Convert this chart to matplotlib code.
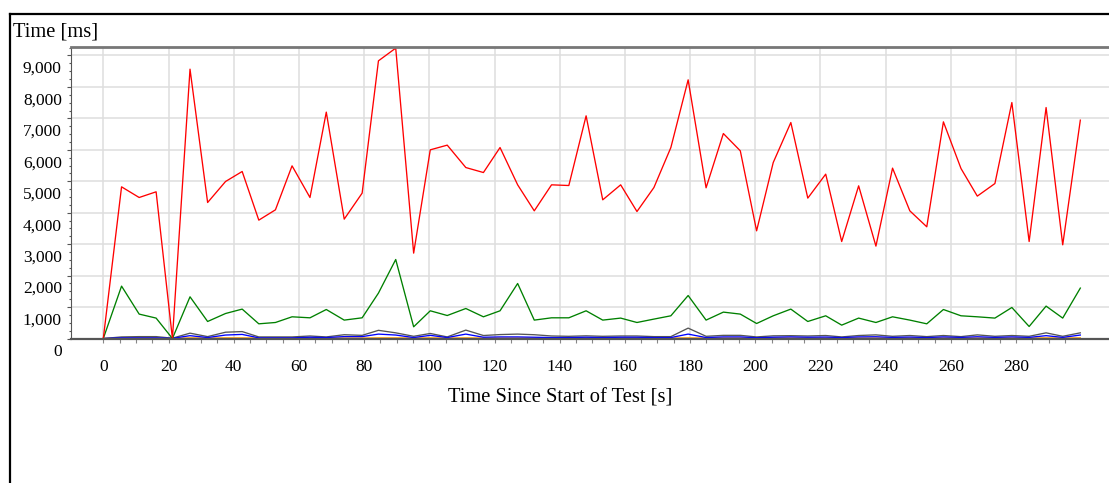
import matplotlib
matplotlib.use("Agg")
import matplotlib.pyplot as plt
from matplotlib.lines import Line2D
from matplotlib.ticker import MultipleLocator, FixedLocator, FuncFormatter
import matplotlib.transforms as mtransforms

# ---- data ----
times = [0, 5.6, 11.0, 16.2, 21.2, 26.6, 32.0, 37.5, 42.6, 47.7, 52.8, 57.9, 63.4, 68.4,
         73.9, 79.4, 84.4, 89.7, 95.2, 100.3, 105.5,
         111.2, 116.6, 121.7, 127.1, 132.2, 137.5, 142.8, 148.1, 153.2, 158.7, 163.7, 168.9,
         174.1, 179.4, 184.9, 190.2, 195.4, 200.4, 205.5, 210.9, 216.1,
         221.6, 226.5, 231.7, 237.0, 242.1, 247.4, 252.6, 257.7, 263.1, 268.1, 273.5, 278.7,
         284.0, 289.2, 294.3, 299.7]

red_ms = [0, 4823, 4484, 4665, 0, 8565, 4325, 4993, 5311, 3764, 4092, 5491, 4484, 7199,
          3796, 4623, 8830, 9234, 2715, 6000, 6149,
          5437, 5278, 6073, 4887, 4060, 4887, 4865, 7081, 4410, 4887, 4038, 4801, 6073,
          8226, 4792, 6518, 5968, 3424, 5596, 6868, 4464,
          5227, 3084, 4855, 2938, 5418, 4060, 3552, 6890, 5405, 4528, 4928, 7504, 3084,
          7345, 2979, 6944]

green_ms = [0, 1666, 776, 649, 0, 1326, 541, 795, 935, 467, 509, 690, 658, 922,
            585, 658, 1444, 2512, 372, 881, 731,
            954, 690, 881, 1749, 585, 658, 658, 881, 585, 649, 509, 617, 722,
            1367, 585, 839, 776, 477, 722, 935, 541,
            722, 425, 649, 509, 690, 585, 467, 922, 722, 690, 649, 986, 382,
            1030, 649, 1603]

gray_ms = [0, 50, 60, 60, 10, 170, 60, 200, 220, 50, 50, 50, 80, 50,
           120, 100, 260, 180, 70, 160, 50,
           267, 95, 125, 140, 120, 80, 70, 85, 70, 80, 80, 60, 60,
           330, 70, 100, 100, 50, 85, 90, 80,
           95, 50, 95, 115, 70, 95, 60, 95, 60, 115, 70, 95, 70,
           180, 70, 180]

blue_ms = [0, 20, 20, 20, 5, 90, 30, 110, 130, 20, 20, 20, 40, 30,
           60, 60, 140, 110, 30, 100, 30,
           140, 40, 50, 50, 40, 30, 30, 40, 30, 40, 40, 30, 30,
           140, 30, 50, 50, 25, 40, 50, 40,
           45, 30, 50, 55, 35, 45, 30, 50, 35, 55, 35, 50, 35,
           90, 35, 110]

orange_ms = [0, 15, 15, 15, 5, 20, 15, 20, 20, 15, 15, 15, 15, 15,
             15, 15, 20, 20, 15, 20, 15,
             20, 15, 15, 15, 15, 15, 15, 15, 15, 15, 15, 15, 15,
             20, 15, 15, 15, 15, 15, 15, 15,
             15, 15, 15, 15, 15, 15, 15, 15, 15, 15, 15, 15, 15,
             20, 15, 20]

x_major = list(range(0, 281, 20))
x_minor = list(range(0, 300, 5))
y_major = list(range(0, 9001, 1000))

# ---- figure ----
W, H = 1109, 483
fig = plt.figure(figsize=(W / 100, H / 100), dpi=100)
serif = ["Liberation Serif", "DejaVu Serif"]

ax_l, ax_r, ax_t, ax_b = 71, 1109, 47, 338.5
ax = fig.add_axes([ax_l / W, (H - ax_b) / H, (ax_r - ax_l) / W, (ax_b - ax_t) / H])

lw = 0.95
ax.plot(times, orange_ms, color="#ff9900", lw=lw, zorder=3)
ax.plot(times, gray_ms, color="#555555", lw=lw, zorder=3)
ax.plot(times, blue_ms, color="#0000ff", lw=lw, zorder=4)
ax.plot(times, green_ms, color="#008000", lw=lw, zorder=5)
ax.plot(times, red_ms, color="#ff0000", lw=lw, zorder=6)

x0_pix = 103.3
px_per_s = 3.26
ax.set_xlim((ax_l - x0_pix) / px_per_s, (ax_r - x0_pix) / px_per_s)
ax.set_ylim(0, 9270)

ax.xaxis.set_major_locator(FixedLocator(x_major))
ax.xaxis.set_minor_locator(FixedLocator(x_minor))
ax.yaxis.set_major_locator(FixedLocator(y_major))
ax.yaxis.set_minor_locator(MultipleLocator(250))
ax.yaxis.set_major_formatter(FuncFormatter(lambda v, p: f"{int(v):,}"))

ax.grid(which="major", color="#dedede", lw=1.1, zorder=0)
ax.set_axisbelow(True)

ax.tick_params(axis="y", which="major", direction="out", length=3, width=0.8,
               color="#555555", pad=3.6, labelsize=12.5)
ax.tick_params(axis="y", which="minor", direction="out", length=1.6, width=0.8,
               color="#555555")
ax.tick_params(axis="x", which="both", direction="out", length=3, width=0.8,
               color="#888888", pad=12, labelsize=12.5)

for lab in ax.get_yticklabels():
    lab.set_fontfamily(serif)
    lab.set_transform(lab.get_transform() +
                      mtransforms.ScaledTranslation(0, -11.5 / 100, fig.dpi_scale_trans))
for lab in ax.get_xticklabels():
    lab.set_fontfamily(serif)

ax.spines["right"].set_visible(False)
ax.spines["top"].set_color("#777777")
ax.spines["top"].set_linewidth(2.0)
ax.spines["left"].set_color("#555555")
ax.spines["left"].set_linewidth(0.8)
ax.spines["bottom"].set_color("#555555")
ax.spines["bottom"].set_linewidth(1.6)
for s in ax.spines.values():
    s.set_zorder(7)

# outer frame (top and left edges)
fig.add_artist(Line2D([9.5 / W, 9.5 / W], [0, 1 - 13.5 / H], transform=fig.transFigure,
                      color="black", lw=1.6))
fig.add_artist(Line2D([9.5 / W, 1], [1 - 13.5 / H, 1 - 13.5 / H], transform=fig.transFigure,
                      color="black", lw=1.6))

fig.text(13 / W, 1 - 31.5 / H, "Time [ms]", ha="left", va="center",
         fontsize=14.8, family=serif)
fig.text(560 / W, 1 - 398 / H, "Time Since Start of Test [s]", ha="center", va="center",
         fontsize=14.8, family=serif)

fig.savefig("out.png", dpi=100)
